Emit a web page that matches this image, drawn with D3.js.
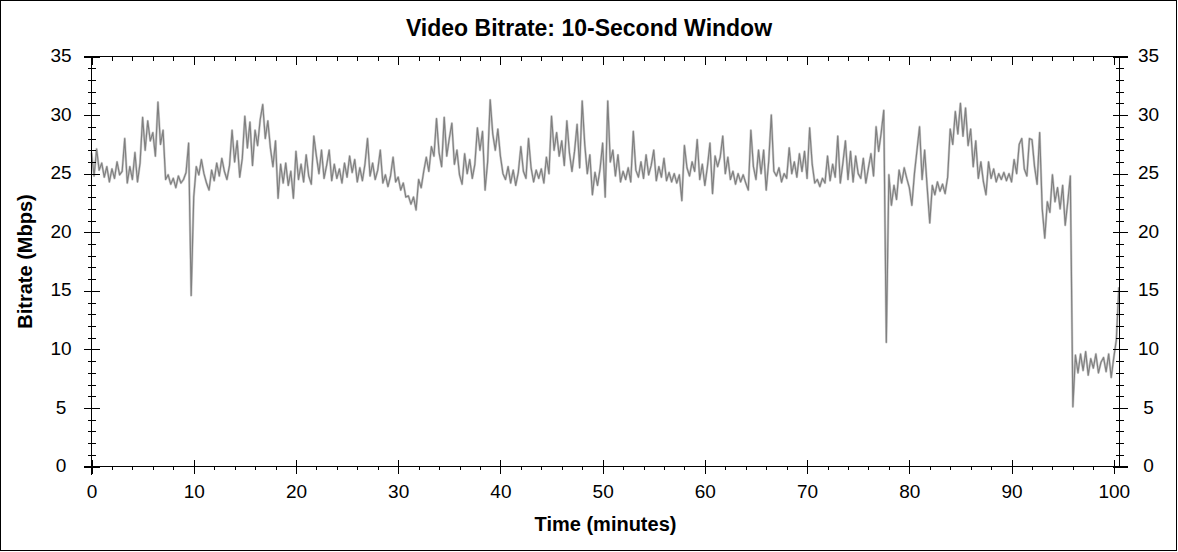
<!DOCTYPE html>
<html><head><meta charset="utf-8">
<script src="https://cdn.jsdelivr.net/npm/d3@7/dist/d3.min.js"></script>
<style>body{margin:0;background:#fff} svg{display:block}</style>
</head><body>
<svg id="chart" width="1178" height="552"></svg>
<script>
const chartTitle = "Video Bitrate: 10-Second Window";
const xTitle = "Time (minutes)";
const yTitle = "Bitrate (Mbps)";
const xTickValues = [0, 10, 20, 30, 40, 50, 60, 70, 80, 90, 100];
const xTickLabels = ["0", "10", "20", "30", "40", "50", "60", "70", "80", "90", "100"];
const yTickValues = [0, 5, 10, 15, 20, 25, 30, 35];
const yTickLabels = ["0", "5", "10", "15", "20", "25", "30", "35"];
const startMinute = 0;
const stepMinutes = 0.25;
// Bitrate (Mbps), one sample every 0.25 minute
const bitrate = [
  26.8,24.8,27.1,25.3, 25.9,24.7,25.6,24.3, 25.4,24.6,26.0,24.9, 25.2,28.0,24.2,25.6, 24.5,26.8,24.3,25.9,
  29.8,27.0,29.5,27.8, 28.5,26.5,31.1,27.5, 28.7,24.5,24.9,24.1, 24.6,23.8,24.8,24.2, 24.5,25.1,27.6,14.6,
  23.0,25.6,24.9,26.2, 25.0,24.2,23.6,25.3, 24.4,25.9,24.8,26.3, 25.2,24.5,25.7,28.7, 26.0,27.8,24.7,26.3,
  29.9,27.2,29.4,25.7, 28.7,27.4,29.6,30.9, 28.0,29.5,27.2,25.6, 27.8,22.9,25.8,24.2, 25.9,24.0,25.2,22.9,
  26.9,24.5,25.8,24.3, 26.6,24.8,24.1,28.2, 26.5,25.0,27.0,24.6, 25.7,27.0,24.4,25.8, 24.6,25.4,24.2,25.9,
  24.7,26.5,25.1,26.2, 24.3,25.5,24.4,25.8, 28.0,24.8,25.9,24.5, 25.3,27.0,24.2,24.9, 23.9,24.8,26.4,24.3,
  24.7,23.6,24.2,23.0, 23.1,22.4,23.0,21.9, 24.5,23.8,25.2,26.4, 25.2,27.3,26.5,29.7, 26.8,25.6,29.8,26.5,
  28.0,29.3,25.8,27.0, 24.9,24.1,26.7,25.0, 26.2,24.6,25.8,28.9, 27.0,28.6,23.6,26.0, 31.3,28.4,27.0,28.8,
  26.5,25.0,24.5,25.6, 24.2,25.3,24.0,25.1, 27.3,25.2,24.6,28.0, 25.5,24.3,25.3,24.6, 25.4,24.2,26.4,25.0,
  29.9,27.0,28.5,26.5, 27.8,25.7,29.5,26.8, 25.2,26.9,29.2,25.5, 31.2,27.5,25.0,26.6, 23.2,25.1,24.0,25.4,
  27.6,23.0,31.2,26.0, 27.0,24.8,26.6,24.3, 25.2,24.5,25.5,24.3, 28.6,25.3,24.7,26.0, 24.6,26.6,24.9,25.7,
  27.0,24.4,25.6,24.7, 26.3,24.4,25.1,24.3, 25.0,24.2,24.9,22.7, 27.4,25.5,24.8,26.0, 25.2,27.9,24.5,25.8,
  24.0,25.6,27.6,23.3, 26.5,25.6,26.4,28.2, 25.0,26.4,24.5,25.2, 24.1,25.0,24.3,24.9, 24.2,23.6,28.7,25.6,
  24.5,27.0,25.0,27.0, 23.6,26.1,30.0,25.2, 24.8,25.5,24.3,25.0, 24.6,27.2,25.0,26.0, 24.7,26.7,25.2,26.9,
  24.6,28.9,25.8,24.2, 24.5,23.9,24.6,24.2, 26.5,24.4,25.8,24.7, 28.2,24.2,25.9,27.8, 24.5,26.9,24.3,26.5,
  25.0,24.6,26.3,24.2, 25.5,26.7,24.8,29.0, 26.9,28.5,30.4,10.6, 24.9,22.3,24.0,22.8, 25.3,24.2,25.5,24.6,
  23.8,22.3,25.0,27.0, 29.0,24.5,27.0,23.8, 20.8,24.0,23.2,24.3, 23.5,24.1,23.3,24.7, 28.8,27.5,30.3,28.4,
  31.0,28.2,30.6,27.4, 28.8,25.6,27.8,24.6, 26.0,24.3,23.2,26.0, 24.6,25.4,24.3,25.0, 24.5,25.1,24.4,25.0,
  24.3,26.2,25.0,27.5, 28.0,25.4,24.8,28.0, 27.9,25.6,24.1,28.5, 22.0,19.5,22.6,21.7, 24.9,22.6,23.8,22.0,
  24.0,20.6,22.6,24.8, 5.1,9.5,8.0,9.6, 8.2,9.8,7.8,9.2, 8.4,9.6,8.0,8.9, 9.3,8.1,9.6,7.6,
  9.3,10.8,15.3
];

const FONT = "'Liberation Sans', Arial, Helvetica, sans-serif";
const svg = d3.select("#chart");
const W = 1178, H = 552;

svg.append("rect").attr("x", 0.5).attr("y", 0.5).attr("width", W - 2).attr("height", H - 2)
  .attr("fill", "#fff").attr("stroke", "#000").attr("stroke-width", 1);

const x = d3.scaleLinear().domain([0, 100.56]).range([91.5, 1119.5]);
const y = d3.scaleLinear().domain([0, 35]).range([466.5, 56.5]);

const xMinor = d3.range(0, 101, 2);
const yMinor = d3.range(0, 36, 1);

// data line
const line = d3.line().x((d, i) => x(startMinute + i * stepMinutes)).y(d => y(d));
svg.append("path").datum(bitrate).attr("d", line).attr("fill", "none")
  .attr("stroke", "#cdcdcd").attr("stroke-width", 2.4).attr("stroke-linejoin", "round");
svg.append("path").datum(bitrate).attr("d", line).attr("fill", "none")
  .attr("stroke", "#808080").attr("stroke-width", 1.2).attr("stroke-linejoin", "round");

const axG = svg.append("g").attr("shape-rendering", "crispEdges");

// frame lines of plot
const L = x.range()[0], R = x.range()[1], B = y.range()[0], T = y.range()[1];
axG.append("line").attr("x1", L - 8).attr("x2", R + 8).attr("y1", B).attr("y2", B).attr("stroke", "#000");
axG.append("line").attr("x1", L - 8).attr("x2", R + 8).attr("y1", T).attr("y2", T).attr("stroke", "#000");
axG.append("line").attr("x1", L).attr("x2", L).attr("y1", T).attr("y2", B + 8).attr("stroke", "#000");
axG.append("line").attr("x1", R).attr("x2", R).attr("y1", T).attr("y2", B).attr("stroke", "#000");

function styleAxis(g) {
  g.select(".domain").remove();
  g.selectAll("line").attr("stroke", "#000");
  g.selectAll("text").attr("fill", "#000").style("font-family", FONT).style("font-size", "19px");
}

// bottom minor
axG.append("g").attr("transform", `translate(0,${B})`)
  .call(d3.axisBottom(x).tickValues(xMinor).tickSize(3).tickFormat(""))
  .call(styleAxis);
// bottom major
axG.append("g").attr("transform", `translate(0,${B})`)
  .call(d3.axisBottom(x).tickValues(xTickValues).tickSize(7).tickFormat((d, i) => xTickLabels[i]))
  .call(styleAxis)
  .call(g => g.selectAll(".tick line").attr("y1", -7))
  .call(g => g.selectAll(".tick text").attr("y", 18).attr("dy", "0.71em"));
// top minor + major (inward)
axG.append("g").attr("transform", `translate(0,${T})`)
  .call(d3.axisTop(x).tickValues(xMinor).tickSize(-4).tickFormat(""))
  .call(styleAxis);
axG.append("g").attr("transform", `translate(0,${T})`)
  .call(d3.axisTop(x).tickValues(xTickValues).tickSize(-8).tickFormat(""))
  .call(styleAxis);
// left
axG.append("g").attr("transform", `translate(${L},0)`)
  .call(d3.axisLeft(y).tickValues(yMinor).tickSize(4).tickFormat(""))
  .call(styleAxis)
  .call(g => g.selectAll(".tick line").attr("x2", 4).attr("x1", -4));
axG.append("g").attr("transform", `translate(${L},0)`)
  .call(d3.axisLeft(y).tickValues(yTickValues).tickSize(8).tickFormat((d, i) => yTickLabels[i]))
  .call(styleAxis)
  .call(g => g.selectAll(".tick line").attr("x2", 8).attr("x1", -8))
  .call(g => g.selectAll(".tick text").attr("x", -30.5).attr("text-anchor", "middle").attr("dy", "0.27em"));
// right
axG.append("g").attr("transform", `translate(${R},0)`)
  .call(d3.axisRight(y).tickValues(yMinor).tickSize(4).tickFormat(""))
  .call(styleAxis)
  .call(g => g.selectAll(".tick line").attr("x1", -4).attr("x2", 4));
axG.append("g").attr("transform", `translate(${R},0)`)
  .call(d3.axisRight(y).tickValues(yTickValues).tickSize(8).tickFormat((d, i) => yTickLabels[i]))
  .call(styleAxis)
  .call(g => g.selectAll(".tick line").attr("x1", -7).attr("x2", 8))
  .call(g => g.selectAll(".tick text").attr("x", 29).attr("text-anchor", "middle").attr("dy", "0.27em"));

// titles
svg.append("text").attr("x", 589).attr("y", 36).attr("text-anchor", "middle")
  .style("font-family", FONT).style("font-size", "23px").style("font-weight", "bold").text(chartTitle);
svg.append("text").attr("x", (L + R) / 2).attr("y", 531).attr("text-anchor", "middle")
  .style("font-family", FONT).style("font-size", "20px").style("font-weight", "bold").text(xTitle);
svg.append("text").attr("transform", `translate(32,${(T + B) / 2}) rotate(-90)`).attr("text-anchor", "middle")
  .style("font-family", FONT).style("font-size", "20px").style("font-weight", "bold").text(yTitle);
</script>
</body></html>
